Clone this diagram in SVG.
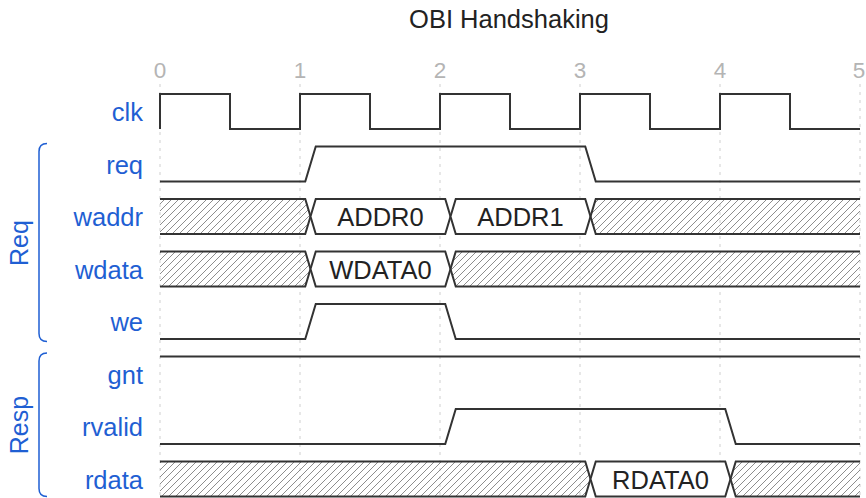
<svg xmlns="http://www.w3.org/2000/svg" width="866" height="498" viewBox="0 0 866 498">
<style>
.lbl{font-family:"Liberation Sans",Arial,sans-serif;font-size:25.5px;fill:#1f5fd3;text-anchor:end}
.grp{font-family:"Liberation Sans",Arial,sans-serif;font-size:25px;fill:#1f5fd3;text-anchor:middle}
.tick{font-family:"Liberation Sans",Arial,sans-serif;font-size:22.5px;fill:#b4b4b4;text-anchor:middle}
.title{font-family:"Liberation Sans",Arial,sans-serif;font-size:25.5px;fill:#222;text-anchor:middle}
.dt{font-family:"Liberation Sans",Arial,sans-serif;font-size:25.5px;fill:#222;text-anchor:middle;dominant-baseline:central}
.grid{stroke:#cfcfcf;stroke-width:1;stroke-dasharray:3 5;fill:none}
.w{stroke:#333;stroke-width:2;fill:none;stroke-linejoin:miter}
.hx{fill:url(#hatch);stroke:none}
.box{fill:#fff;stroke:#333;stroke-width:2}
.br{stroke:#1f5fd3;stroke-width:1.5;fill:none}
</style>
<defs>
<pattern id="hatch" patternUnits="userSpaceOnUse" width="7" height="7">
<path d="M-1,8 L8,-1 M-1,1 L1,-1 M6,8 L8,6" stroke="#808080" stroke-width="0.9"/>
</pattern>
</defs>
<text class="title" x="509" y="27.5">OBI Handshaking</text>
<g id="ticks">
<text class="tick" x="160" y="77.5">0</text>
<text class="tick" x="300" y="77.5">1</text>
<text class="tick" x="440" y="77.5">2</text>
<text class="tick" x="580" y="77.5">3</text>
<text class="tick" x="720" y="77.5">4</text>
<text class="tick" x="859" y="77.5">5</text>
</g>
<g id="grid">
<path class="grid" d="M160,84V498M300,84V498M440,84V498M580,84V498M720,84V498M860,84V498"/>
</g>
<g id="labels">
<text class="lbl" x="143" y="121">clk</text>
<text class="lbl" x="143" y="173.5">req</text>
<text class="lbl" x="143" y="226">waddr</text>
<text class="lbl" x="143" y="278.5">wdata</text>
<text class="lbl" x="143" y="331">we</text>
<text class="lbl" x="143" y="383.5">gnt</text>
<text class="lbl" x="143" y="436">rvalid</text>
<text class="lbl" x="143" y="488.5">rdata</text>
</g>
<g id="group-req">
<path class="br" d="M47,143.5 C42,143.5 39,146.5 39,151.5 V333.5 C39,338.5 42,341.5 47,341.5"/>
<text class="grp" transform="translate(28,243) rotate(-90)">Req</text>
</g>
<g id="group-resp">
<path class="br" d="M47,353 C42,353 39,356 39,361 V488.5 C39,493.5 42,496.5 47,496.5"/>
<text class="grp" transform="translate(28,425) rotate(-90)">Resp</text>
</g>
<g id="clk"><path class="w" d="M160,129V94H230V129H300V94H370V129H440V94H510V129H580V94H650V129H720V94H790V129H860"/></g>
<g id="req"><path class="w" d="M160,181.5H305.25L315.75,146.5H585.25L595.75,181.5H860"/></g>
<g id="waddr">
<polygon class="hx" points="160,199 305.25,199 310.5,216.5 305.25,234 160,234"/>
<path class="w" d="M160,199H305.25L310.5,216.5L305.25,234H160"/>
<polygon class="box" points="315.75,199 445.25,199 450.5,216.5 445.25,234 315.75,234 310.5,216.5"/>
<text class="dt" x="380.5" y="217">ADDR0</text>
<polygon class="box" points="455.75,199 585.25,199 590.5,216.5 585.25,234 455.75,234 450.5,216.5"/>
<text class="dt" x="520.5" y="217">ADDR1</text>
<polygon class="hx" points="595.75,199 860,199 860,234 595.75,234 590.5,216.5"/>
<path class="w" d="M860,199H595.75L590.5,216.5L595.75,234H860"/>
</g>
<g id="wdata">
<polygon class="hx" points="160,251.5 305.25,251.5 310.5,269 305.25,286.5 160,286.5"/>
<path class="w" d="M160,251.5H305.25L310.5,269L305.25,286.5H160"/>
<polygon class="box" points="315.75,251.5 445.25,251.5 450.5,269 445.25,286.5 315.75,286.5 310.5,269"/>
<text class="dt" x="380.5" y="269.5">WDATA0</text>
<polygon class="hx" points="455.75,251.5 860,251.5 860,286.5 455.75,286.5 450.5,269"/>
<path class="w" d="M860,251.5H455.75L450.5,269L455.75,286.5H860"/>
</g>
<g id="we"><path class="w" d="M160,339H305.25L315.75,304H445.25L455.75,339H860"/></g>
<g id="gnt"><path class="w" d="M160,356.5H860"/></g>
<g id="rvalid"><path class="w" d="M160,444H445.25L455.75,409H725.25L735.75,444H860"/></g>
<g id="rdata">
<polygon class="hx" points="160,461.5 585.25,461.5 590.5,479 585.25,496.5 160,496.5"/>
<path class="w" d="M160,461.5H585.25L590.5,479L585.25,496.5H160"/>
<polygon class="box" points="595.75,461.5 725.25,461.5 730.5,479 725.25,496.5 595.75,496.5 590.5,479"/>
<text class="dt" x="660.5" y="479.5">RDATA0</text>
<polygon class="hx" points="735.75,461.5 860,461.5 860,496.5 735.75,496.5 730.5,479"/>
<path class="w" d="M860,461.5H735.75L730.5,479L735.75,496.5H860"/>
</g>
</svg>
